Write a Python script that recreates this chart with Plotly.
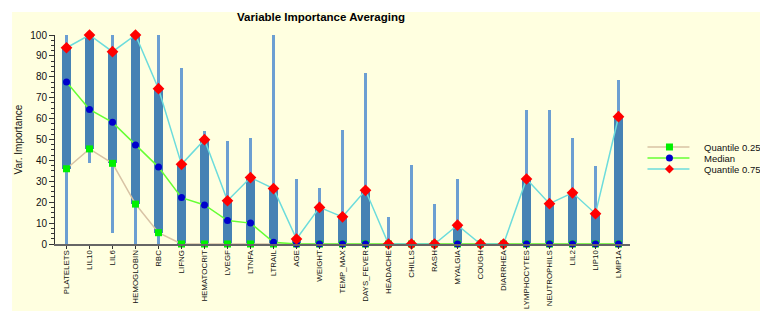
import plotly.graph_objects as go

categories = ["PLATELETS", "LIL10", "LIL6", "HEMOGLOBIN", "RBC", "LIFNG", "HEMATOCRIT",
              "LVEGF", "LTNFA", "LTRAIL", "AGE", "WEIGHT", "TEMP_MAX", "DAYS_FEVER",
              "HEADACHE", "CHILLS", "RASH", "MYALGIA", "COUGH", "DIARRHEA",
              "LYMPHOCYTES", "NEUTROPHILS", "LIL2", "LIP10", "LMIP1A"]
q25 = [36, 45.5, 38.6, 19.1, 5.4, 0, 0, 0, 0, 0, 0, 0, 0, 0, 0, 0, 0, 0, 0, 0, 0, 0, 0, 0, 0]
median = [77.5, 64.4, 58.2, 47.4, 36.8, 22.2, 18.7, 11.2, 10, 0.8, 0, 0, 0, 0, 0, 0, 0, 0, 0, 0,
          0, 0, 0, 0, 0]
q75 = [93.9, 100, 92, 100, 74.3, 38.1, 49.9, 20.7, 31.8, 26.5, 2.4, 17.5, 13, 25.7, 0, 0, 0, 9,
       0, 0, 31.1, 19.3, 24.5, 14.5, 60.9]
vmin = [0, 38.6, 5.4, 0, 0, 0, 0, 0, 0, 0, 0, 0, 0, 0, 0, 0, 0, 0, 0, 0, 0, 0, 0, 0, 0]
vmax = [100, 100, 100, 100, 100, 84.3, 54.3, 49.4, 50.9, 100, 31, 27, 54.5, 81.8, 13, 38, 19,
        31, 0, 0, 64, 64, 50.9, 37.3, 78.5]
y_ticks = [0, 10, 20, 30, 40, 50, 60, 70, 80, 90, 100]
legend_labels = ["Quantile 0.25", "Median", "Quantile 0.75"]

FONT = "Liberation Sans, Arial, sans-serif"
BG = "#FFFFE0"
BAR = "#4682B4"
WHISK = "#6C9FD2"
Q25_LINE, Q25_MK = "#D8C3A5", "#00F000"
MED_LINE, MED_MK = "#66FF33", "#0000CC"
Q75_LINE, Q75_MK = "#6CDCDC", "#FF0000"

fig = go.Figure()

# whiskers (min..max)
fig.add_trace(go.Bar(x=categories, y=[b - a for a, b in zip(vmin, vmax)], base=vmin,
                     width=0.09, marker=dict(color=WHISK, line=dict(width=0)),
                     showlegend=False, hoverinfo="skip"))
# interquartile bars
fig.add_trace(go.Bar(x=categories, y=[b - a for a, b in zip(q25, q75)], base=q25,
                     width=0.35, marker=dict(color=BAR, line=dict(width=0)),
                     showlegend=False, hoverinfo="skip"))

fig.add_trace(go.Scatter(x=categories, y=q25, mode="lines+markers", name=legend_labels[0],
                         line=dict(color=Q25_LINE, width=1.5),
                         marker=dict(symbol="square", size=7, color=Q25_MK),
                         cliponaxis=False, showlegend=False))
fig.add_trace(go.Scatter(x=categories, y=median, mode="lines+markers", name=legend_labels[1],
                         line=dict(color=MED_LINE, width=1.5),
                         marker=dict(symbol="circle", size=7, color=MED_MK),
                         cliponaxis=False, showlegend=False))
fig.add_trace(go.Scatter(x=categories, y=q75, mode="lines+markers", name=legend_labels[2],
                         line=dict(color=Q75_LINE, width=1.5),
                         marker=dict(symbol="diamond", size=9, color=Q75_MK),
                         cliponaxis=False, showlegend=False))

# the page body adds an 8px offset; the figure is sized to fit the window exactly
OFF = 8
FW, FH = 768 - OFF, 311 - OFF
L, T = 55 - OFF, 35 - OFF
R = FW - (630.5 - OFF)
B = FH - (244 - OFF)
W, H = FW - L - R, FH - T - B


def px(sx):
    return (sx - OFF - L) / W


def py(sy):
    return (FH - B - (sy - OFF)) / H


shapes = [dict(type="rect", xref="paper", yref="paper", x0=px(12), x1=px(768), y0=py(312),
               y1=py(12), fillcolor=BG, line=dict(width=0), layer="below")]
annotations = []
styles = [(Q25_LINE, Q25_MK, "square"), (MED_LINE, MED_MK, "circle"), (Q75_LINE, Q75_MK, "diamond")]
rows = [147, 158, 169]
for (lc, mc, sym), lab, ry in zip(styles, legend_labels, rows):
    shapes.append(dict(type="line", xref="paper", yref="paper", x0=px(648), x1=px(690),
                       y0=py(ry), y1=py(ry), line=dict(color=lc, width=1.5)))
    common = dict(xref="paper", yref="paper", xsizemode="pixel", ysizemode="pixel",
                  xanchor=px(670), yanchor=py(ry), fillcolor=mc, line=dict(width=0))
    if sym == "square":
        shapes.append(dict(type="rect", x0=-3.5, x1=3.5, y0=-3.5, y1=3.5, **common))
    elif sym == "circle":
        shapes.append(dict(type="circle", x0=-3.5, x1=3.5, y0=-3.5, y1=3.5, **common))
    else:
        shapes.append(dict(type="path", path="M0,4.5 L4.5,0 L0,-4.5 L-4.5,0 Z", **common))
    annotations.append(dict(text=lab, xref="paper", yref="paper", x=px(703), y=py(ry),
                            xanchor="left", yanchor="middle", showarrow=False,
                            font=dict(family=FONT, size=9.5, color="#111")))

annotations.append(dict(text="Var. Importance", xref="paper", yref="paper", x=px(18), y=0.5,
                        textangle=-90, xanchor="center", yanchor="middle", showarrow=False,
                        font=dict(family=FONT, size=10, color="#111")))

fig.update_layout(
    width=FW, height=FH,
    margin=dict(l=L, r=R, t=T, b=B, pad=0, autoexpand=False),
    paper_bgcolor="white", plot_bgcolor=BG,
    barmode="overlay", bargap=0,
    showlegend=False,
    title=dict(text="<b>Variable Importance Averaging</b>", x=(321 - OFF) / FW,
               xanchor="center", y=1 - (17 - OFF) / FH, yanchor="middle",
               font=dict(family=FONT, size=11.5, color="#000")),
    shapes=shapes, annotations=annotations,
    font=dict(family=FONT, color="#111"),
)
fig.layout.title.xref = "container"
fig.layout.title.yref = "container"
fig.update_xaxes(type="category", range=[-0.5, len(categories) - 0.5], showgrid=False,
                 showline=True, linecolor="#666", linewidth=2, ticks="outside", ticklen=3,
                 tickcolor="#333", tickangle=-90, automargin=False, ticklabelstandoff=-2,
                 tickfont=dict(family=FONT, size=7.9, color="#111"), zeroline=False)
fig.update_yaxes(range=[0, 100], tickvals=y_ticks, showgrid=False, showline=True,
                 linecolor="#333", linewidth=1, ticks="outside", ticklen=5, tickcolor="#333",
                 automargin=False,
                 minor=dict(dtick=2.5, ticks="outside", ticklen=3, tickcolor="#333", showgrid=False),
                 tickfont=dict(family=FONT, size=10, color="#111"), zeroline=False)

fig.write_html("out.html")
